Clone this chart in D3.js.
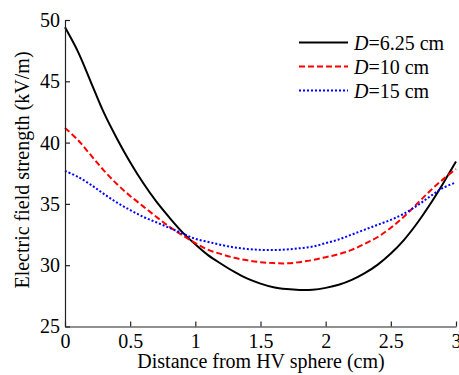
<!DOCTYPE html>
<html><head><meta charset="utf-8">
<script src="https://cdn.jsdelivr.net/npm/d3@7"></script>
<style>html,body{margin:0;padding:0;background:#fff;}svg{display:block;}
svg text{font-family:"Liberation Serif","Times New Roman",Times,"DejaVu Serif",serif;}</style>
</head><body>
<svg id="c" width="459" height="375"></svg>
<script>
const xTicks = [0, 0.5, 1, 1.5, 2, 2.5, 3];
const yTicks = [25, 30, 35, 40, 45, 50];
const seriesNames = ["6.25 cm", "10 cm", "15 cm"];
const distance = [0, 0.1, 0.2, 0.3, 0.4, 0.5, 0.6, 0.7, 0.8, 0.9, 1.0, 1.1, 1.2, 1.3, 1.4, 1.5, 1.6, 1.7, 1.8, 1.9, 2.0, 2.1, 2.2, 2.3, 2.4, 2.5, 2.6, 2.7, 2.8, 2.9, 3.0];
const fieldD625 = [49.4, 47.4, 44.9, 42.4, 40.3, 38.4, 36.7, 35.2, 33.9, 32.7, 31.7, 30.8, 30.1, 29.45, 28.9, 28.5, 28.2, 28.05, 27.98, 28.0, 28.15, 28.4, 28.8, 29.35, 30.05, 30.95, 32.05, 33.4, 34.95, 36.65, 38.45];
const fieldD10 = [41.2, 40.2, 38.95, 37.7, 36.6, 35.65, 34.8, 33.95, 33.15, 32.45, 31.8, 31.25, 30.9, 30.6, 30.4, 30.25, 30.17, 30.15, 30.25, 30.42, 30.65, 30.9, 31.25, 31.75, 32.3, 33.05, 33.95, 35.0, 36.05, 37.0, 37.85];
const fieldD15 = [37.7, 37.2, 36.55, 35.8, 35.1, 34.5, 33.95, 33.5, 33.05, 32.6, 32.15, 31.9, 31.65, 31.45, 31.32, 31.25, 31.24, 31.28, 31.38, 31.52, 31.8, 32.1, 32.5, 32.9, 33.3, 33.7, 34.2, 34.85, 35.6, 36.3, 36.76];

const svg = d3.select("#c");
const x = d3.scaleLinear().domain([0, 3]).range([65, 456]);
const y = d3.scaleLinear().domain([25, 50]).range([326.5, 20]);

const series = [
  {ys: fieldD625, color: "#000", dash: null, w: 2},
  {ys: fieldD10, color: "#ff0000", dash: "6,3", w: 2},
  {ys: fieldD15, color: "#0000ff", dash: "2,2", w: 2}
];
const line = d3.line().x(d => x(d[0])).y(d => y(d[1])).curve(d3.curveCatmullRom.alpha(0.5));
series.forEach(s => {
  svg.append("path").datum(distance.map((v, i) => [v, s.ys[i]]))
    .attr("d", line).attr("fill", "none").attr("stroke", s.color)
    .attr("stroke-width", s.w).attr("stroke-dasharray", s.dash);
});

const xAxis = svg.append("g").attr("transform", "translate(0,326.5)")
  .call(d3.axisBottom(x).tickValues(xTicks).tickSizeInner(-5).tickSizeOuter(0).tickPadding(7).tickFormat(d3.format("")));
const yAxis = svg.append("g").attr("transform", "translate(65,0)")
  .call(d3.axisLeft(y).tickValues(yTicks).tickSizeInner(-5).tickSizeOuter(0).tickPadding(5));
[xAxis, yAxis].forEach(a => {
  a.attr("font-family", null).attr("font-size", null);
  a.selectAll("path,line").attr("stroke", "#222").attr("stroke-width", 1.2);
  a.selectAll("text").style("font-size", "20px").attr("fill", "#000");
});

svg.append("text").attr("x", 261).attr("y", 368).attr("text-anchor", "middle")
  .style("font-size", "20px").text("Distance from HV sphere (cm)");
svg.append("text").attr("transform", "translate(29,170) rotate(-90)").attr("text-anchor", "middle")
  .style("font-size", "20px").text("Electric field strength (kV/m)");

const leg = svg.append("g");
series.forEach((s, i) => {
  const ly = 42.5 + i * 24;
  leg.append("line").attr("x1", 299).attr("x2", 348).attr("y1", ly).attr("y2", ly)
    .attr("stroke", s.color).attr("stroke-width", s.w).attr("stroke-dasharray", s.dash);
  const t = leg.append("text").attr("x", 354).attr("y", ly + 7)
    .style("font-size", "20px");
  t.append("tspan").attr("font-style", "italic").text("D");
  t.append("tspan").text("=" + seriesNames[i]);
});
</script>
</body></html>
